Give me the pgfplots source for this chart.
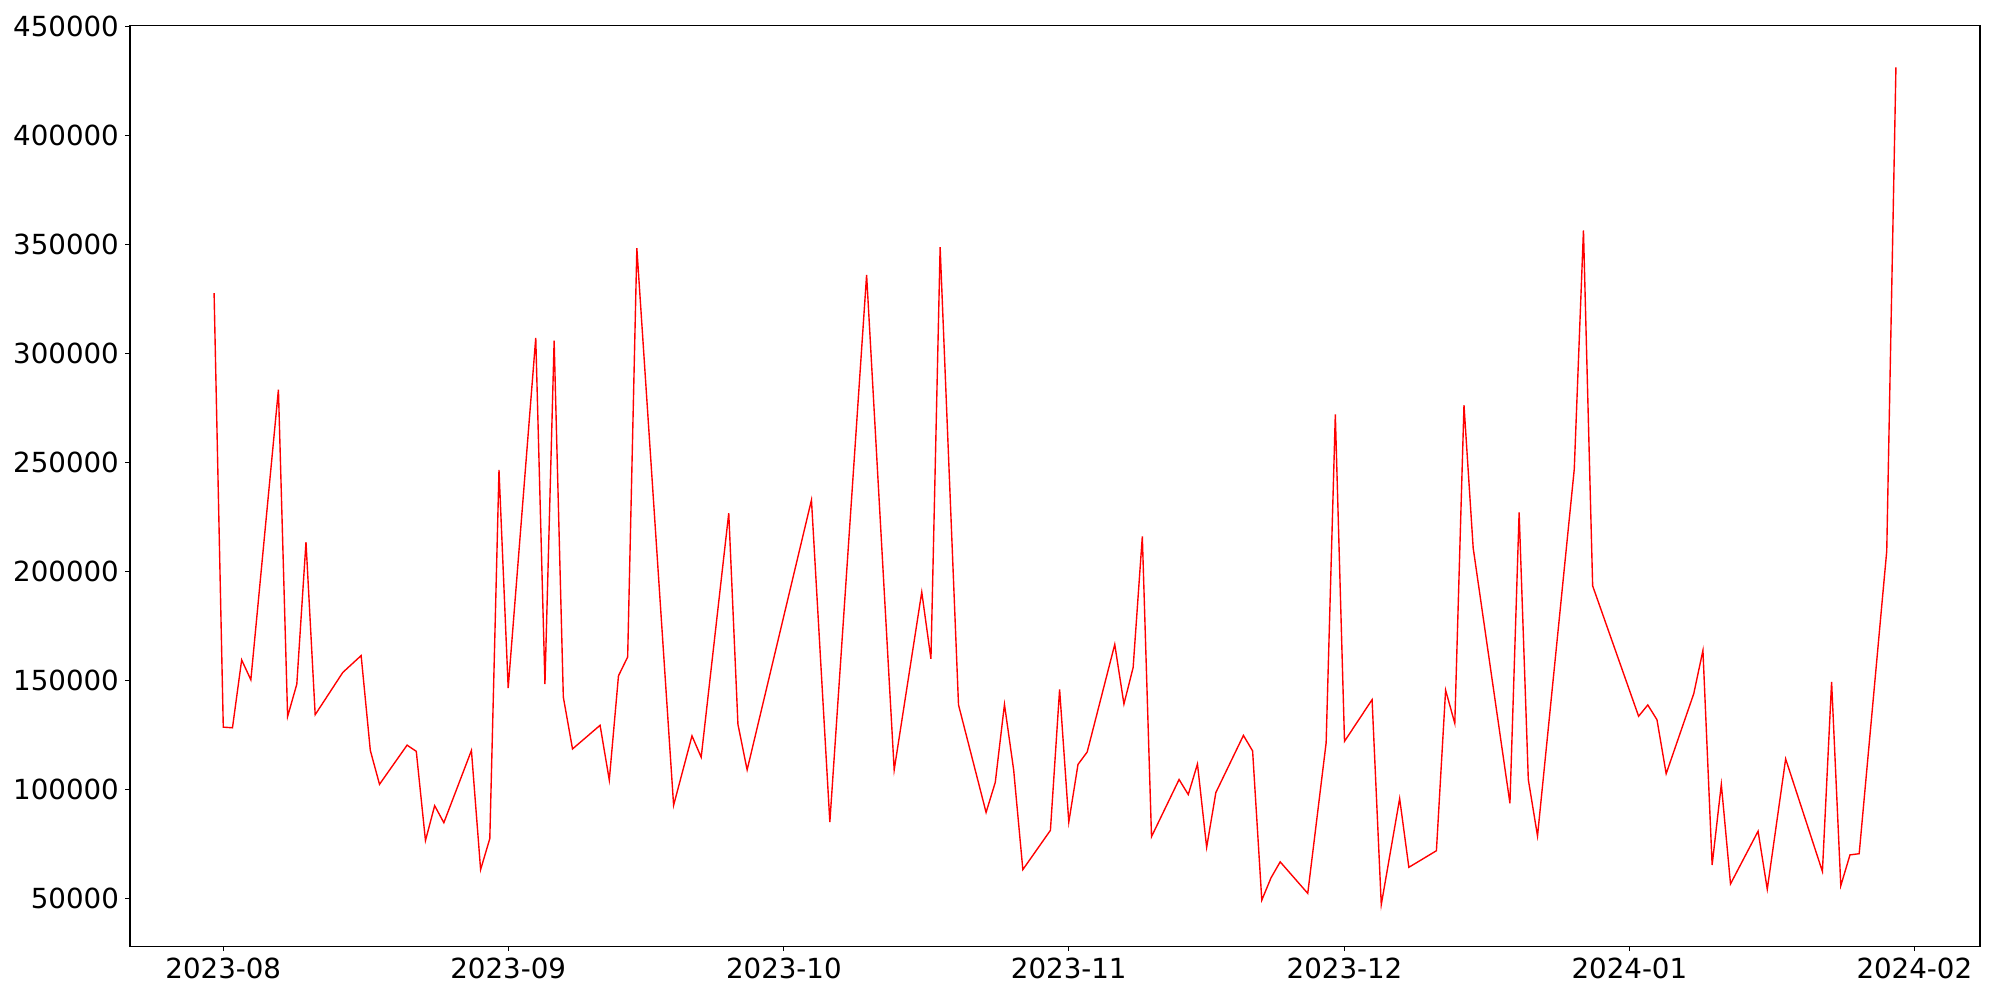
\documentclass[border=0pt]{standalone}
\usepackage{fontspec}
\setmainfont{DejaVu Sans}
\usepackage{pgfplots}
\pgfplotsset{compat=1.18}
\usepackage{pgfplotstable}
\pgfplotstableread{
day value
-1 327600
0 128700
1 128400
2 159500
3 150400
6 283400
7 133550
8 148400
9 213500
10 134400
13 153750
15 161500
16 118000
17 102500
20 120450
21 117600
22 76700
23 92700
24 84900
27 118000
28 63400
29 77600
30 246550
31 146650
34 307150
35 148400
36 305800
37 142450
38 118700
41 129550
42 104450
43 152200
44 160850
45 348200
49 92900
51 124700
52 114900
55 226800
56 130000
57 109100
64 232800
66 85150
70 336000
73 109100
76 190600
77 160000
78 348700
80 138900
83 89600
84 103400
85 139100
86 109100
87 63400
90 81400
91 146000
92 85150
93 111600
94 117300
97 166600
98 139300
99 156000
100 216100
101 78500
104 104700
105 97800
106 111800
107 73600
108 98700
111 124900
112 117800
113 49400
114 59600
115 66950
118 52500
120 121500
121 272000
122 122200
125 141300
126 47330
128 95950
129 64440
132 72050
133 145650
134 130440
135 276290
136 210830
140 93780
141 227130
142 104640
143 78830
147 246960
148 356410
149 193450
154 133700
155 138860
156 132070
157 107350
160 144020
161 163850
162 65530
163 102470
164 56840
167 81010
168 54400
170 114140
174 62540
175 149450
176 56020
177 70140
178 70690
181 209480
182 431100
}\datatable
\begin{document}
\begin{tikzpicture}
\useasboundingbox (0,0) rectangle (20in,10in);
\begin{axis}[
  at={(1.30in,0.536in)}, anchor=south west,
  width=18.5in, height=9.209in, scale only axis,
  xmin=-10.15, xmax=191.15,
  ymin=28200, ymax=450300,
  xtick={0,31,61,92,122,153,184},
  xticklabels={2023-08,2023-09,2023-10,2023-11,2023-12,2024-01,2024-02},
  ytick={50000,100000,150000,200000,250000,300000,350000,400000,450000},
  yticklabels={50000,100000,150000,200000,250000,300000,350000,400000,450000},
  xtick pos=bottom, ytick pos=left,
  tick align=outside,
  major tick length=3.5pt,
  tick style={black, line width=0.8pt},
  axis line style={black, line width=0.8pt},
  ticklabel style={font=\fontsize{20}{24}\selectfont},
  xticklabel style={yshift=-1pt},
  yticklabel style={xshift=-1pt},
  axis background/.style={fill=white},
]
\addplot[red, line width=1pt, mark=none] table[x=day, y=value] {\datatable};
\end{axis}
\end{tikzpicture}
\end{document}
